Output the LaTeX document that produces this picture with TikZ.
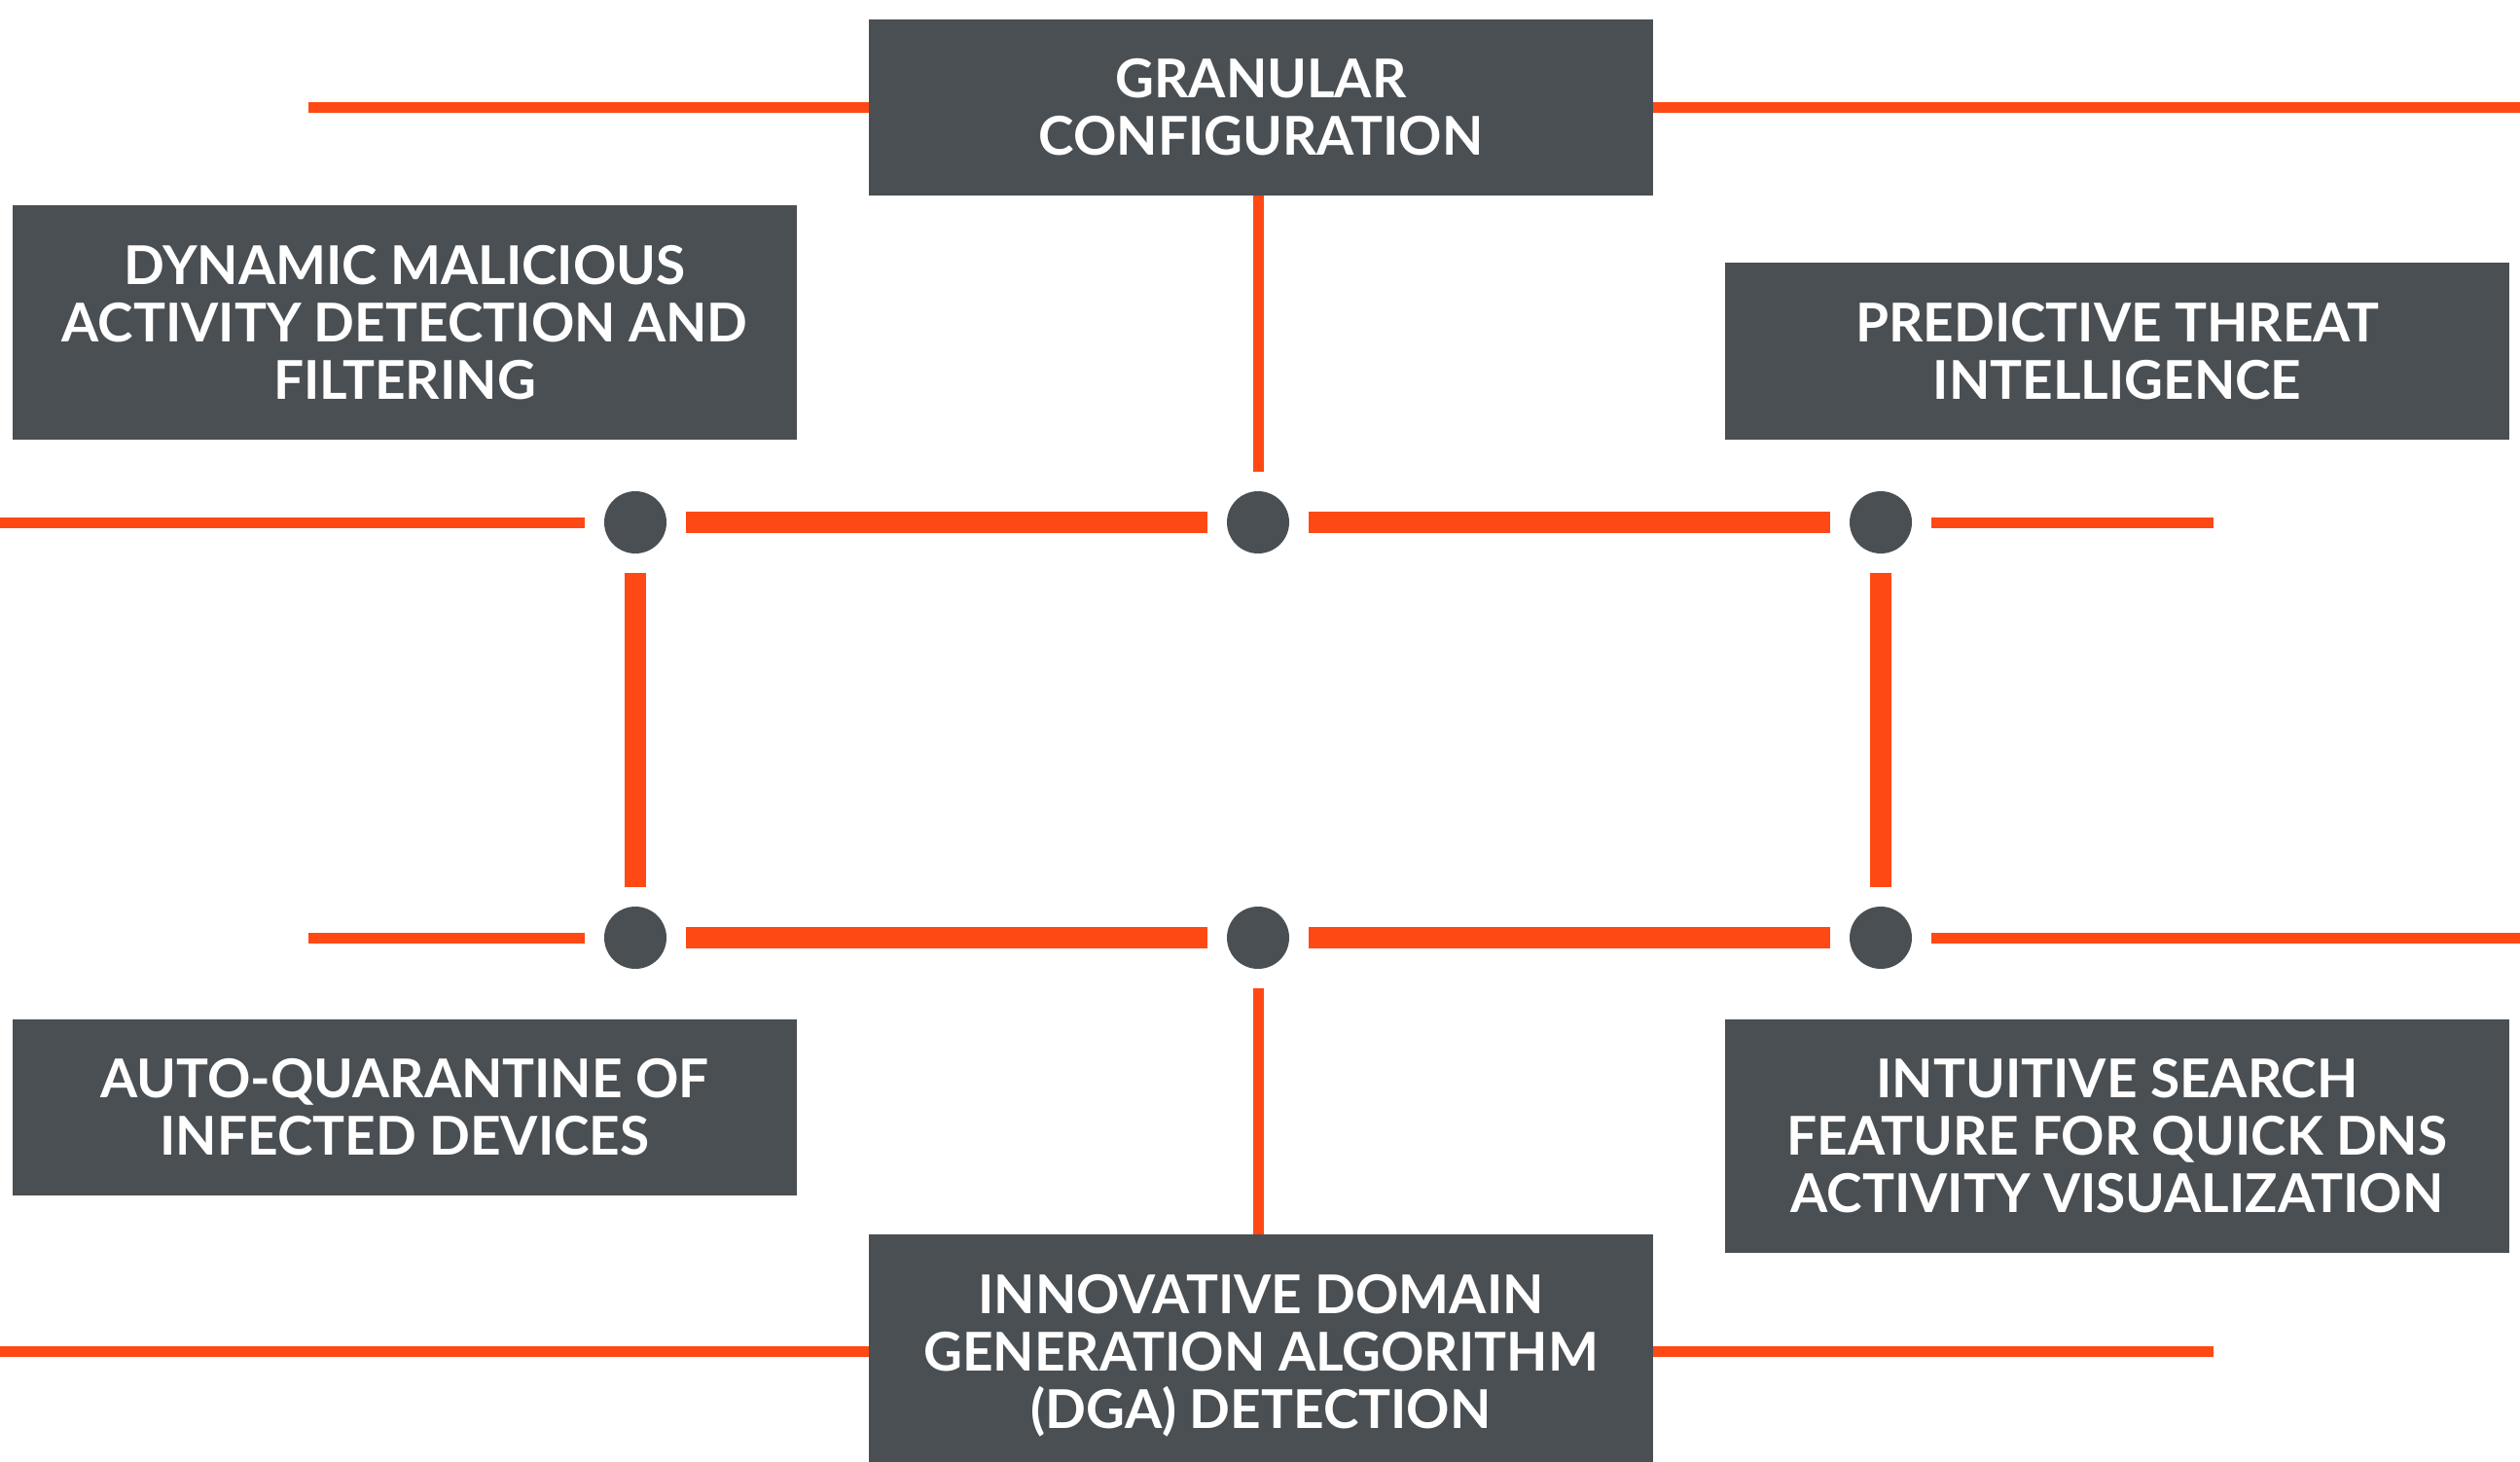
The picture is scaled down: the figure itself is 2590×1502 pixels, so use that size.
\documentclass[tikz,border=0pt]{standalone}
\usepackage{fontspec}
\setmainfont{Lato}
\definecolor{dkgray}{HTML}{4A4F53}
\definecolor{orng}{HTML}{FF4915}
\begin{document}
\begin{tikzpicture}[x=1pt,y=-1pt,
  box/.style={rectangle, fill=dkgray, text=white, align=center, inner sep=0pt, outer sep=0pt,
    minimum width=806pt, font=\fontsize{55}{59}\selectfont\bfseries},
  dot/.style={circle, fill=dkgray, minimum size=64pt, inner sep=0pt, outer sep=20pt},
  thin/.style={draw=orng, line width=11pt},
  thick/.style={draw=orng, line width=22pt}]
\useasboundingbox (0,0) rectangle (2590,1502);
% boxes
\node[box, minimum height=181pt] (gtop) at (1296,110.5) {GRANULAR\\CONFIGURATION};
\node[box, minimum height=241pt] (tl) at (416,331.5) {DYNAMIC MALICIOUS\\ACTIVITY DETECTION AND\\FILTERING};
\node[box, minimum height=182pt] (tr) at (2176,361) {PREDICTIVE THREAT\\INTELLIGENCE};
\node[box, minimum height=181pt] (bl) at (416,1138.5) {AUTO-QUARANTINE OF\\INFECTED DEVICES};
\node[box, minimum height=240pt] (br) at (2176,1168) {INTUITIVE SEARCH\\FEATURE FOR QUICK DNS\\ACTIVITY VISUALIZATION};
\node[box, minimum height=249pt] (gbot) at (1296,1393.5) {INNOVATIVE DOMAIN\\GENERATION ALGORITHM\\(DGA) DETECTION};
% dots
\node[dot] (d1) at (653,537) {};
\node[dot] (d2) at (1293,537) {};
\node[dot] (d3) at (1933,537) {};
\node[dot] (d4) at (653,964) {};
\node[dot] (d5) at (1293,964) {};
\node[dot] (d6) at (1933,964) {};
% free ends
\coordinate (t0) at (317,110);
\coordinate (t1) at (2590,110);
\coordinate (r1a) at (0,537);
\coordinate (r1b) at (2275,537);
\coordinate (r2a) at (317,964);
\coordinate (r2b) at (2590,964);
\coordinate (b0) at (0,1389);
\coordinate (b1) at (2275,1389);
% lines
\draw[thin] (t0) -- (t0-|gtop.west);
\draw[thin] (t1-|gtop.east) -- (t1);
\draw[thin] (d2|-gtop.south) -- (d2);
\draw[thin] (r1a) -- (d1);
\draw[thick] (d1) -- (d2);
\draw[thick] (d2) -- (d3);
\draw[thin] (d3) -- (r1b);
\draw[thick] (d1) -- (d4);
\draw[thick] (d3) -- (d6);
\draw[thin] (r2a) -- (d4);
\draw[thick] (d4) -- (d5);
\draw[thick] (d5) -- (d6);
\draw[thin] (d6) -- (r2b);
\draw[thin] (d5) -- (d5|-gbot.north);
\draw[thin] (b0) -- (b0-|gbot.west);
\draw[thin] (b1-|gbot.east) -- (b1);
\end{tikzpicture}
\end{document}
